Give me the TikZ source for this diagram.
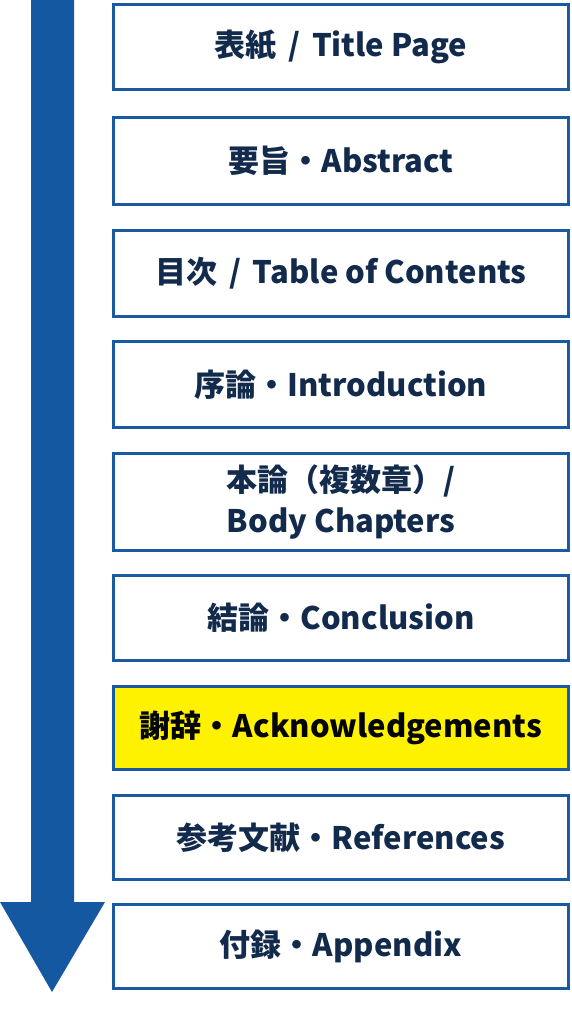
\documentclass[tikz,border=0pt]{standalone}
\usepackage{fontspec}
\setmainfont{Noto Sans CJK JP}
\definecolor{boxblue}{HTML}{1A5AA2}
\definecolor{arrowblue}{HTML}{1558A2}
\definecolor{txt}{HTML}{122B4C}
\definecolor{hl}{HTML}{FFF200}
\newcommand{\mysep}{\hspace{0.38em}/\hspace{0.38em}}
\tikzset{
  stagebox/.style={draw=boxblue, line width=3pt, fill=white, minimum width=455pt,
    align=center, text=txt, font=\bfseries\fontsize{31}{35}\selectfont, inner sep=0pt},
}
\begin{document}
\begin{tikzpicture}[x=1pt,y=-1pt]
\useasboundingbox (0,0) rectangle (572,1024);
\fill[white] (0,0) rectangle (572,1024);
% arrow
\fill[arrowblue] (31,-5) -- (74,-5) -- (74,902) -- (105,902) -- (52,992) -- (0,902) -- (31,902) -- cycle;
% boxes
\node[stagebox, minimum height=85pt] (n1) at (341,47) {表紙\mysep Title Page};
\node[stagebox, minimum height=87pt] (n2) at (341,161) {要旨・Abstract};
\node[stagebox, minimum height=86pt] (n3) at (341,273.5) {目次\mysep Table of Contents};
\node[stagebox, minimum height=86pt] (n4) at (341,384.5) {序論・Introduction};
\node[stagebox, minimum height=97pt] (n5) at (341,502) {本論（複数章）/\\[6pt]Body Chapters};
\node[stagebox, minimum height=85pt] (n6) at (341,618) {結論・Conclusion};
\node[stagebox, minimum height=83pt, fill=hl, text=black!90!txt] (n7) at (341,728) {謝辞・Acknowledgements};
\node[stagebox, minimum height=84pt] (n8) at (341,837.5) {参考文献・References};
\node[stagebox, minimum height=84pt] (n9) at (341,946.5) {付録・Appendix};
\end{tikzpicture}
\end{document}
